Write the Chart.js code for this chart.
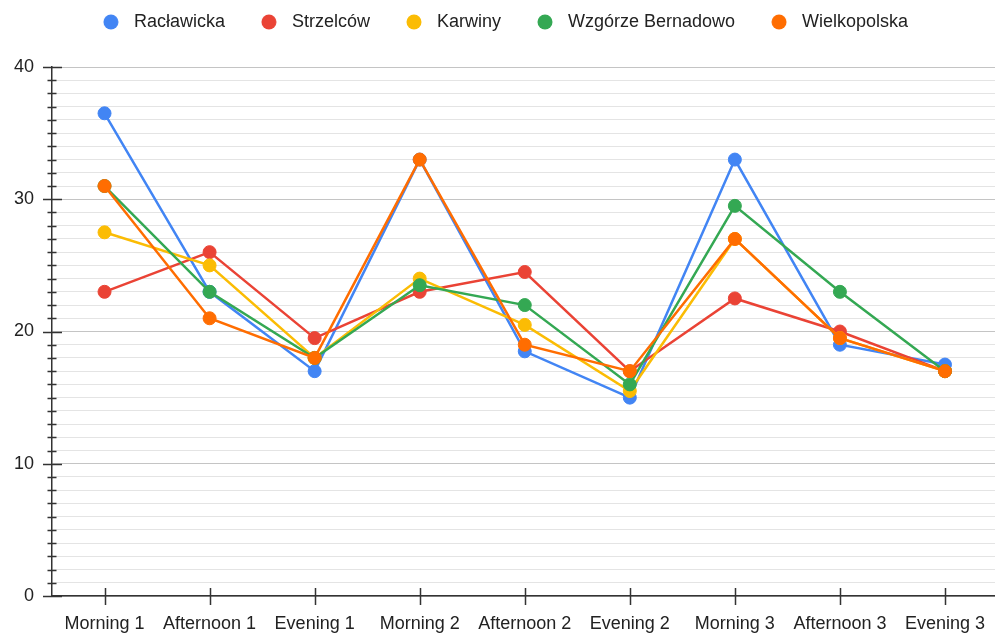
<!DOCTYPE html>
<html>
<head>
<meta charset="utf-8">
<script src="https://cdn.jsdelivr.net/npm/chart.js@4/dist/chart.umd.min.js"></script>
<style>
  html, body { margin: 0; padding: 0; overflow: hidden; background: #fff; }
  #wrap { width: 1005px; height: 634px; position: relative; }
</style>
</head>
<body>
<div id="wrap"><canvas id="chart"></canvas></div>
<script>
// Time slots along the x axis
const categories = ['Morning 1', 'Afternoon 1', 'Evening 1', 'Morning 2', 'Afternoon 2', 'Evening 2', 'Morning 3', 'Afternoon 3', 'Evening 3'];

// Readings per location
const raclawicka   = [36.5, 23, 17, 33, 18.5, 15, 33, 19, 17.5];
const strzelcow    = [23, 26, 19.5, 23, 24.5, 17, 22.5, 20, 17];
const karwiny      = [27.5, 25, 18, 24, 20.5, 15.5, 27, 19.5, 17];
const wzgorze      = [31, 23, 18, 23.5, 22, 16, 29.5, 23, 17];
const wielkopolska = [31, 21, 18, 33, 19, 17, 27, 19.5, 17];

const seriesNames = ['Racławicka', 'Strzelców', 'Karwiny', 'Wzgórze Bernadowo', 'Wielkopolska'];
const seriesValues = [raclawicka, strzelcow, karwiny, wzgorze, wielkopolska];
const seriesColors = ['#4285F4', '#EA4335', '#FBBC04', '#34A853', '#FF6D01'];

// Labelled y values
const yLabelValues = [0, 10, 20, 30, 40];

const FONT = "'Liberation Sans', Arial, sans-serif";

// Round legend marker drawn into a small canvas
function legendDot(color) {
  const c = document.createElement('canvas');
  c.width = 16; c.height = 16;
  const g = c.getContext('2d');
  g.fillStyle = color;
  g.beginPath();
  g.arc(8, 8, 7.5, 0, Math.PI * 2);
  g.fill();
  return c;
}
const legendDots = seriesColors.map(legendDot);

// Short tick marks that cross both axis lines
const axisMarks = {
  id: 'axisMarks',
  beforeDatasetsDraw(chart) {
    const ctx = chart.ctx;
    const xs = chart.scales.x, ys = chart.scales.y;
    const left = chart.chartArea.left, bottom = chart.chartArea.bottom;
    ctx.save();
    ctx.strokeStyle = '#333';
    ctx.lineWidth = 1.5;
    ctx.beginPath();
    for (let v = ys.min; v <= ys.max; v += 1) {
      const y = Math.round(ys.getPixelForValue(v)) + 0.5;
      const major = yLabelValues.includes(v);
      ctx.moveTo(left - (major ? 9 : 4.5), y);
      ctx.lineTo(left + (major ? 10 : 4.5), y);
    }
    categories.forEach((_, i) => {
      const x = Math.round(xs.getPixelForValue(i)) + 0.5;
      ctx.moveTo(x, bottom - 8);
      ctx.lineTo(x, bottom + 9);
    });
    ctx.stroke();
    ctx.restore();
  }
};

const datasets = seriesNames.map((name, i) => ({
  label: name,
  data: seriesValues[i],
  borderColor: seriesColors[i],
  backgroundColor: seriesColors[i],
  pointBackgroundColor: seriesColors[i],
  pointBorderColor: seriesColors[i],
  borderWidth: 2.5,
  pointRadius: 6.5,
  pointHoverRadius: 6.5,
  pointBorderWidth: 1,
  tension: 0,
  // later series sit on top
  order: seriesNames.length - i
}));

new Chart(document.getElementById('chart'), {
  type: 'line',
  data: { labels: categories, datasets },
  plugins: [axisMarks],
  options: {
    responsive: true,
    maintainAspectRatio: false,
    animation: false,
    // legend row sits close to the top edge
    layout: { padding: { top: -17, left: 0, right: 0, bottom: 0 } },
    plugins: {
      tooltip: { enabled: false },
      // empty spacer between the legend and the plot
      title: {
        display: true,
        text: '',
        weight: 500,
        padding: { top: 25, bottom: 0 },
        font: { size: 1, lineHeight: 1 }
      },
      legend: {
        position: 'top',
        labels: {
          usePointStyle: true,
          pointStyleWidth: 28,
          padding: 30,
          color: '#222',
          font: { family: FONT, size: 18 },
          sort: (a, b) => a.datasetIndex - b.datasetIndex,
          generateLabels(chart) {
            const items = Chart.defaults.plugins.legend.labels.generateLabels(chart);
            items.forEach(it => { it.pointStyle = legendDots[it.datasetIndex]; });
            return items;
          }
        }
      }
    },
    scales: {
      x: {
        offset: true,
        afterFit(scale) { scale.height = 38; },
        grid: { display: false, drawTicks: false },
        border: { display: true, color: '#333', width: 1.5 },
        ticks: {
          color: '#222',
          padding: 17,
          maxRotation: 0,
          autoSkip: false,
          font: { family: FONT, size: 18 }
        }
      },
      y: {
        min: 0,
        max: 40,
        afterFit(scale) { scale.width = 52; },
        grid: {
          drawTicks: false,
          color: ctx => (yLabelValues.includes(ctx.tick.value) ? '#c4c4c4' : '#e4e4e4'),
          lineWidth: 1
        },
        border: { display: true, color: '#333', width: 1.5 },
        ticks: {
          stepSize: 1,
          autoSkip: false,
          padding: 18,
          color: '#222',
          font: { family: FONT, size: 18 },
          callback: v => (yLabelValues.includes(v) ? String(v) : '')
        }
      }
    }
  }
});
</script>
</body>
</html>
